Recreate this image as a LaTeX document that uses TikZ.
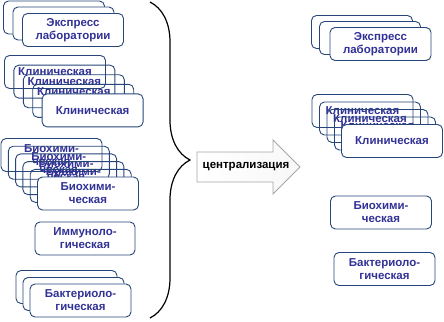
\documentclass[tikz,border=0pt]{standalone}
\usepackage{fontspec}
\setmainfont{Liberation Sans}
\usepackage{tikz}
\usepackage{xcolor}
\usetikzlibrary{decorations.pathreplacing, calc}

\definecolor{boxblue}{RGB}{38,70,122}
\definecolor{txtblue}{RGB}{50,50,150}

\begin{document}
\begin{tikzpicture}[x=1pt, y=-1pt,
  labbox/.style={draw=boxblue, fill=white, rounded corners=5pt, line width=0.9pt,
    minimum width=101pt, minimum height=33pt, inner sep=0pt, align=center,
    text=txtblue, font=\bfseries\fontsize{11.5}{13}\selectfont},
  ghostbox/.style={labbox, fill=none},
  bracket/.style={line width=1.2pt, decorate, decoration={brace, amplitude=40pt}}]
\useasboundingbox (0,0) rectangle (444,321);

% Before: express labs
\node[labbox] (ex1) at (54,17.5) {};
\node[labbox] (ex2) at (63.5,23.5) {};
\node[labbox] (ex3) at (73,30) {Экспресс\\лаборатории};

% Before: clinical labs
\node[ghostbox] (kl1) at (55,72) {Клиническая};
\node[ghostbox] (kl2) at (64.4,81.6) {Клиническая};
\node[ghostbox] (kl3) at (73.8,91.2) {Клиническая};
\node[ghostbox] (kl4) at (83.2,100.8) {Клиническая};
\node[labbox] (kl5) at (92.6,110.4) {Клиническая};

% Before: biochemical labs
\node[ghostbox] (bh1) at (51.5,155) {Биохими-\\ческая};
\node[ghostbox] (bh2) at (58.8,162.7) {Биохими-\\ческая};
\node[ghostbox] (bh3) at (66.1,170.4) {Биохими-\\ческая};
\node[ghostbox] (bh4) at (73.4,178.1) {Биохими-\\ческая};
\node[ghostbox] (bh5) at (80.7,185.8) {Биохими-\\ческая};
\node[labbox] (bh6) at (88,193.5) {Биохими-\\ческая};

% Before: immunological lab
\node[labbox, minimum width=100pt] (im) at (85,238.5) {Иммуноло-\\гическая};

% Before: bacteriological labs
\node[labbox] (ba1) at (66.5,287) {};
\node[labbox] (ba2) at (73.5,294) {};
\node[labbox] (ba3) at (80.5,300.5) {Бактериоло-\\гическая};

% Brace
\coordinate (braceTop) at (150,2);
\coordinate (braceBot) at (150,318);
\draw[bracket] (braceTop) -- (braceBot);

% Centralisation arrow
\draw[draw=gray!70, left color=white, right color=gray!6, line width=0.8pt]
  (197,152) -- (273,152) -- (273,140) -- (300,167) -- (273,194) -- (273,182) -- (197,182) -- cycle;
\node[font=\bfseries\fontsize{11.5}{13}\selectfont] (central) at (246,167) {централизация};

% After: express labs
\node[labbox] (rex1) at (362,32) {};
\node[labbox] (rex2) at (370,38) {};
\node[labbox] (rex3) at (380.5,44) {Экспресс\\лаборатории};

% After: clinical labs
\node[ghostbox] (rkl1) at (362.5,111) {Клиническая};
\node[ghostbox] (rkl2) at (370,118.5) {Клиническая};
\node[ghostbox] (rkl3) at (377.5,126) {Клиническая};
\node[ghostbox] (rkl4) at (385,133.5) {Клиническая};
\node[labbox] (rkl5) at (392,141) {Клиническая};

% After: biochemical and bacteriological
\node[labbox] (rbh) at (381,212.5) {Биохими-\\ческая};
\node[labbox] (rba) at (384.5,269) {Бактериоло-\\гическая};

\end{tikzpicture}
\end{document}
